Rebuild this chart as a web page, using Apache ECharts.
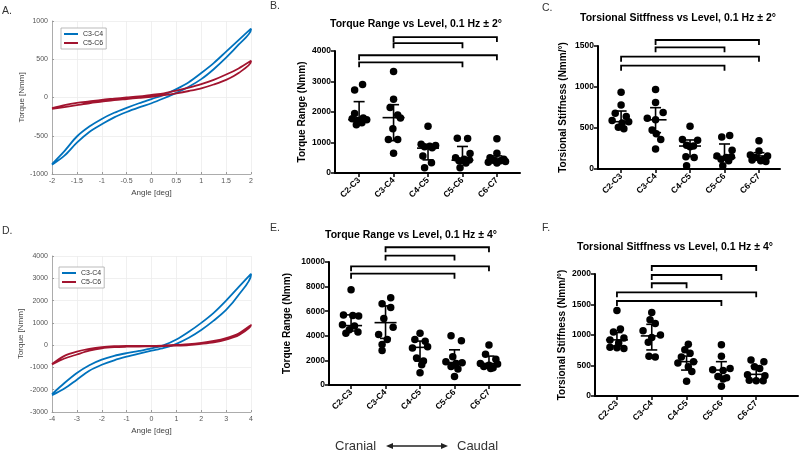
<!DOCTYPE html>
<html><head><meta charset="utf-8">
<script src="https://cdn.jsdelivr.net/npm/echarts@6/dist/echarts.min.js"></script>
<style>html,body{margin:0;padding:0;background:#fff}#c{width:800px;height:452px}</style>
</head><body><div id="c"></div>
<script>
// ---------- data ----------
const levels = ['C2-C3','C3-C4','C4-C5','C5-C6','C6-C7'];
const seriesNames = ['C3-C4','C5-C6'];

const angleA = [-2,-1.75,-1.5,-1.25,-1,-0.75,-0.5,-0.25,0,0.25,0.5,0.75,1,1.25,1.5,1.75,2];
const torqueA_C34_load   = [-880,-760,-590,-450,-350,-260,-190,-130,-75,-10,60,140,240,370,520,690,890];
const torqueA_C34_unload = [-870,-700,-510,-380,-280,-200,-135,-75,-20,35,110,200,320,450,600,750,900];
const torqueA_C56_load   = [-150,-125,-100,-75,-55,-35,-20,-5,10,30,55,85,120,170,230,320,470];
const torqueA_C56_unload = [-140,-100,-70,-50,-30,-15,0,15,35,55,90,130,175,230,300,380,480];

const angleD = [-4,-3.5,-3,-2.5,-2,-1.5,-1,-0.5,0,0.5,1,1.5,2,2.5,3,3.5,4];
const torqueD_C34_load   = [-2250,-1950,-1550,-1150,-880,-680,-520,-380,-250,-120,60,330,680,1100,1580,2250,3150];
const torqueD_C34_unload = [-2200,-1700,-1250,-900,-650,-480,-360,-260,-150,0,250,600,1000,1450,2000,2600,3200];
const torqueD_C56_load   = [-870,-600,-420,-250,-140,-90,-70,-60,-55,-45,-25,5,60,130,250,440,900];
const torqueD_C56_unload = [-850,-480,-290,-170,-90,-50,-35,-30,-30,-15,10,40,100,190,320,520,930];

// B: Torque range, ±2°
const B_values = [
  [2900,2720,1950,1800,1780,1750,1720,1650,1580],
  [3330,2420,2150,1900,1800,1450,1100,1100,650],
  [1530,940,900,880,860,830,560,340,170],
  [1140,1130,640,500,450,430,400,330,170],
  [1120,650,500,450,430,400,380,350,330]];
const B_jitter = [
  [0.1,-0.13,-0.13,0.12,-0.2,0.22,-0.05,0.08,-0.08],
  [0,0,-0.1,0.12,0.2,-0.02,-0.15,0.12,0],
  [0,-0.2,0.22,0.05,-0.1,0.12,-0.15,0.1,-0.1],
  [-0.15,0.15,0.22,-0.2,0.05,0.2,-0.1,0.1,-0.07],
  [0,0,-0.2,0.2,-0.1,0.1,0.25,-0.25,0]];
const B_center = [1750,1815,815,420,430];
const B_upper  = [2340,2240,910,870,560];
const B_lower  = [1640,1060,430,320,330];
const B_brackets = [[2,5,4455],[2,4,4257],[1,5,3861],[1,4,3630]];

// C: Torsional stiffness, ±2°
const C_values = [
  [935,780,680,640,590,575,560,510,490],
  [970,810,690,620,600,475,430,360,245],
  [520,360,350,290,280,270,150,140,40],
  [410,390,230,160,150,140,120,100,40],
  [345,220,170,160,140,120,110,100,90]];
const C_jitter = [
  [0,0,-0.17,0.15,-0.26,0.22,0.03,-0.08,0.08],
  [0,0,0.22,-0.24,0,-0.1,0.02,0.15,0],
  [0,-0.22,0.22,-0.1,0.1,0,-0.12,0.12,-0.1],
  [0.15,-0.08,0.22,-0.22,0.2,0.05,-0.1,0.12,-0.05],
  [0,0,-0.25,0.25,-0.1,0.15,-0.2,0.05,0.2]];
const C_center = [577,600,280,138,159];
const C_upper  = [707,748,354,305,199];
const C_lower  = [508,443,150,118,138];
const C_brackets = [[2,5,1573],[2,4,1484],[1,5,1370],[1,4,1260]];

// E: Torque range, ±4°
const E_values = [
  [7750,5700,5650,5600,4900,4800,4500,4300,4200],
  [7100,6600,6300,5400,4700,4100,3700,3300,2800],
  [4200,3700,3550,3100,3000,2200,1950,1650,1000],
  [4000,3600,2300,1900,1800,1750,1500,1300,700],
  [3250,2500,2100,1750,1700,1600,1500,1400,1350]];
const E_jitter = [
  [0,-0.22,0.05,0.22,-0.25,0.1,-0.05,0.2,-0.15],
  [0.15,-0.1,0.15,-0.05,0.22,-0.2,0.05,-0.1,-0.1],
  [0,-0.15,0.15,0.22,-0.22,-0.1,0.1,0.05,0],
  [-0.1,0.2,-0.05,-0.25,0.22,0.05,-0.1,0.1,0],
  [0,-0.1,0.2,-0.25,0.25,0,-0.15,0.12,0.05]];
const E_center = [4830,5070,3060,1830,1750];
const E_upper  = [5700,6430,3570,2860,2350];
const E_lower  = [4390,3790,1940,1390,1370];
const E_brackets = [[2,5,11200],[2,4,10520],[1,5,9650],[1,4,9050]];

// F: Torsional stiffness, ±4°
const F_values = [
  [1400,1100,1050,950,920,870,800,790,780],
  [1370,1250,1190,1070,1000,960,880,650,640],
  [850,760,700,640,560,540,480,400,240],
  [840,650,450,430,420,320,300,280,160],
  [590,560,480,450,350,330,260,250,250]];
const F_jitter = [
  [0,0.1,-0.1,0.2,-0.2,0.05,-0.2,0,0.2],
  [0,-0.05,0.1,-0.25,0.25,0,-0.1,-0.08,0.1],
  [0.05,-0.05,0.1,-0.15,0.2,-0.25,0.05,0.15,0],
  [0,0,0.25,-0.25,0.05,-0.1,0.15,0.05,0],
  [-0.15,0.22,-0.05,0.1,-0.25,0.25,-0.2,0,0.2]];
const F_center = [920,985,563,425,355];
const F_upper  = [1040,1175,655,563,490];
const F_lower  = [820,755,425,290,262];
const F_brackets = [[2,5,2131],[2,4,1984],[2,3,1848],[1,5,1700],[1,4,1557]];

const titleB = 'Torque Range vs Level, 0.1 Hz ± 2°';
const titleC = 'Torsional Sitffness vs Level, 0.1 Hz ± 2°';
const titleE = 'Torque Range vs Level, 0.1 Hz ± 4°';
const titleF = 'Torsional Sitffness vs Level, 0.1 Hz ± 4°';

// ---------- helpers ----------
const FF = '"Liberation Sans", Arial, sans-serif';
const BLUE = '#0072BD', RED = '#A2142F';
const plain = (v) => String(v);

function loop(angles, load, unload){
  const out = angles.map((a,i)=>[a, load[i]]);
  for (let i = angles.length-1; i >= 0; i--) out.push([angles[i], unload[i]]);
  return out;
}
function points(values, jitter){
  const out = [];
  values.forEach((g,gi)=>g.forEach((v,i)=>out.push([gi+1+jitter[gi][i], v])));
  return out;
}
function errData(c,u,l){ return c.map((v,i)=>[i+1, v, u[i], l[i]]); }

function errRender(params, api){
  const x = api.value(0);
  const pc = api.coord([x, api.value(1)]);
  const pu = api.coord([x, api.value(2)]);
  const pl = api.coord([x, api.value(3)]);
  const st = {stroke:'#000', lineWidth:1.6};
  return {type:'group', children:[
    {type:'line', shape:{x1:pc[0]-11,y1:pc[1],x2:pc[0]+11,y2:pc[1]}, style:st},
    {type:'line', shape:{x1:pu[0],y1:pu[1],x2:pl[0],y2:pl[1]}, style:st},
    {type:'line', shape:{x1:pu[0]-5.5,y1:pu[1],x2:pu[0]+5.5,y2:pu[1]}, style:st},
    {type:'line', shape:{x1:pl[0]-5.5,y1:pl[1],x2:pl[0]+5.5,y2:pl[1]}, style:st}
  ]};
}
function bracketRender(params, api){
  const p1 = api.coord([api.value(0), api.value(2)]);
  const p2 = api.coord([api.value(1), api.value(2)]);
  return {type:'polyline', shape:{points:[[p1[0],p1[1]+5],[p1[0],p1[1]],[p2[0],p2[1]],[p2[0],p2[1]+5]]},
    style:{stroke:'#000', lineWidth:1.8, fill:null}};
}

const grids = [
  {left:52, top:21, width:199, height:153},   // A
  {left:335, top:51, width:185, height:122},  // B
  {left:598, top:46, width:182, height:123},  // C
  {left:52, top:256, width:199, height:156},  // D
  {left:329, top:262, width:191, height:123}, // E
  {left:595, top:274, width:203, height:122}  // F
];

function matlabX(gi, min, max, interval){
  return {type:'value', gridIndex:gi, min, max, interval,
    name:'Angle [deg]', nameLocation:'middle', nameGap:15,
    nameTextStyle:{fontFamily:FF, fontSize:8, color:'#444'},
    axisLine:{show:true, onZero:false, lineStyle:{color:'#9a9a9a', width:0.8}},
    axisTick:{show:true, inside:true, length:2, lineStyle:{color:'#9a9a9a'}},
    axisLabel:{fontFamily:FF, fontSize:7, color:'#555', margin:4, formatter:plain},
    splitLine:{show:true, lineStyle:{color:'#ececec', width:0.8}}};
}
function matlabY(gi, min, max, interval, gap){
  return {type:'value', gridIndex:gi, min, max, interval,
    name:'Torque [Nmm]', nameLocation:'middle', nameGap:gap,
    nameTextStyle:{fontFamily:FF, fontSize:8, color:'#444'},
    axisLine:{show:true, onZero:false, lineStyle:{color:'#9a9a9a', width:0.8}},
    axisTick:{show:true, inside:true, length:2, lineStyle:{color:'#9a9a9a'}},
    axisLabel:{fontFamily:FF, fontSize:7, color:'#555', margin:4, formatter:plain},
    splitLine:{show:true, lineStyle:{color:'#ececec', width:0.8}}};
}
function prismX(gi, min, max){
  return {type:'value', gridIndex:gi, min, max,
    axisLine:{show:true, onZero:false, lineStyle:{color:'#000', width:2}},
    axisTick:{show:true, customValues:[1,2,3,4,5], length:4, lineStyle:{color:'#000', width:1.5}},
    axisLabel:{customValues:[1,2,3,4,5], formatter:(v)=>levels[Math.round(v)-1] || '',
      rotate:45, fontFamily:FF, fontWeight:'bold', fontSize:8.5, color:'#000', margin:6},
    splitLine:{show:false}};
}
function prismY(gi, max, interval, name, gap){
  return {type:'value', gridIndex:gi, min:0, max, interval,
    name, nameLocation:'middle', nameGap:gap,
    nameTextStyle:{fontFamily:FF, fontWeight:'bold', fontSize:10, color:'#000'},
    axisLine:{show:true, lineStyle:{color:'#000', width:2}},
    axisTick:{show:true, length:4, lineStyle:{color:'#000', width:1.5}},
    axisLabel:{fontFamily:FF, fontWeight:'bold', fontSize:8.5, color:'#000', margin:4, formatter:plain},
    splitLine:{show:false}};
}

function lineSeries(name, color, ai, data){
  return {type:'line', name, xAxisIndex:ai, yAxisIndex:ai, data, symbol:'none', smooth:0.3,
    lineStyle:{color, width:1.8}, itemStyle:{color}, z:3};
}
function panelSeries(ai, values, jitter, c, u, l, brackets){
  return [
    {type:'scatter', xAxisIndex:ai, yAxisIndex:ai, data:points(values, jitter), symbolSize:7.5,
      itemStyle:{color:'#000', opacity:1}, z:3},
    {type:'custom', xAxisIndex:ai, yAxisIndex:ai, data:errData(c,u,l), renderItem:errRender,
      encode:{x:0, y:[1,2,3]}, clip:false, z:4},
    {type:'custom', xAxisIndex:ai, yAxisIndex:ai, data:brackets, renderItem:bracketRender,
      encode:{x:[0,1], y:2}, clip:false, z:4}
  ];
}

function txt(x, y, text, font, align, fill){
  return {type:'text', x, y, style:{text, font, fill: fill || '#000',
    align: align || 'left', textAlign: align || 'left', verticalAlign:'middle', textVerticalAlign:'middle'}};
}

const legendCommon = {orient:'vertical', selectedMode:false,
  data: seriesNames.map(n=>({name:n, icon:'rect'})),
  itemWidth:14, itemHeight:2, itemGap:1, itemTextGap:3, padding:[2,3,2,3],
  backgroundColor:'#fff', borderColor:'#aaa', borderWidth:0.8,
  textStyle:{fontFamily:FF, fontSize:7, color:'#333', lineHeight:8}};

const option = {
  animation:false,
  backgroundColor:'#fff',
  grid: grids,
  legend:[
    Object.assign({left:61, top:28}, legendCommon),
    Object.assign({left:59, top:267}, legendCommon)
  ],
  xAxis:[
    matlabX(0,-2,2,0.5),
    prismX(1,0.3,5.67),
    prismX(2,0.33,5.61),
    matlabX(3,-4,4,1),
    prismX(4,0.36,5.9),
    prismX(5,0.37,6.2)
  ],
  yAxis:[
    matlabY(0,-1000,1000,500,26),
    prismY(1,4000,1000,'Torque Range (Nmm)',28),
    prismY(2,1500,500,'Torsional Stiffness (Nmm/°)',30),
    matlabY(3,-3000,4000,1000,27),
    prismY(4,10000,2000,'Torque Range (Nmm)',37),
    prismY(5,2000,500,'Torsional Stiffness (Nmm/°)',28)
  ],
  series:[
    lineSeries('C3-C4', BLUE, 0, loop(angleA, torqueA_C34_load, torqueA_C34_unload)),
    lineSeries('C5-C6', RED, 0, loop(angleA, torqueA_C56_load, torqueA_C56_unload)),
    lineSeries('C3-C4', BLUE, 3, loop(angleD, torqueD_C34_load, torqueD_C34_unload)),
    lineSeries('C5-C6', RED, 3, loop(angleD, torqueD_C56_load, torqueD_C56_unload)),
    ...panelSeries(1, B_values, B_jitter, B_center, B_upper, B_lower, B_brackets),
    ...panelSeries(2, C_values, C_jitter, C_center, C_upper, C_lower, C_brackets),
    ...panelSeries(4, E_values, E_jitter, E_center, E_upper, E_lower, E_brackets),
    ...panelSeries(5, F_values, F_jitter, F_center, F_upper, F_lower, F_brackets)
  ],
  graphic:[
    txt(2, 11.5, 'A.', '10.5px ' + FF, 'left', '#333'),
    txt(270, 6.5, 'B.', '10.5px ' + FF, 'left', '#333'),
    txt(542, 8.5, 'C.', '10.5px ' + FF, 'left', '#333'),
    txt(2, 231, 'D.', '10.5px ' + FF, 'left', '#333'),
    txt(270, 228.5, 'E.', '10.5px ' + FF, 'left', '#333'),
    txt(542, 228.5, 'F.', '10.5px ' + FF, 'left', '#333'),
    txt(330, 24, titleB, 'bold 10.5px ' + FF),
    txt(580, 18.5, titleC, 'bold 10.5px ' + FF),
    txt(325, 235, titleE, 'bold 10.5px ' + FF),
    txt(577, 247.5, titleF, 'bold 10.5px ' + FF),
    txt(335, 446, 'Cranial', '13px ' + FF, 'left', '#333'),
    txt(457, 446, 'Caudal', '13px ' + FF, 'left', '#333'),
    {type:'line', shape:{x1:390, y1:446, x2:444, y2:446}, style:{stroke:'#222', lineWidth:1.5}},
    {type:'polygon', shape:{points:[[386,446],[393,443],[393,449]]}, style:{fill:'#222'}},
    {type:'polygon', shape:{points:[[448,446],[441,443],[441,449]]}, style:{fill:'#222'}}
  ]
};

const chart = echarts.init(document.getElementById('c'), null, {renderer:'canvas'});
chart.setOption(option);
</script>
</body></html>
